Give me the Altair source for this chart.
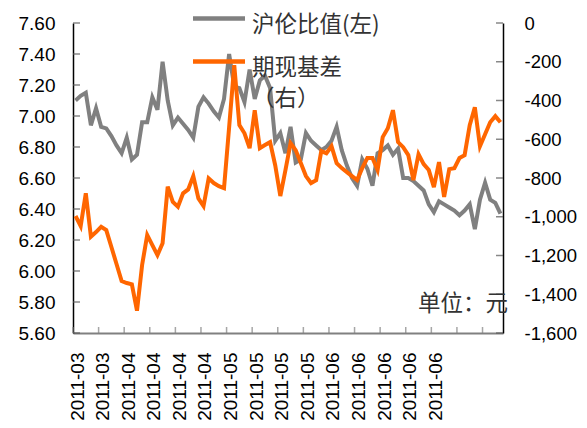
import json
import altair as alt
import pandas as pd

# 沪伦比值 (left axis)
ratio = [7.10, 7.13, 7.15, 6.94, 7.05, 6.93, 6.92, 6.87, 6.81, 6.76,
         6.86, 6.72, 6.75, 6.96, 6.96, 7.12, 7.04, 7.35, 7.10, 6.94,
         6.99, 6.95, 6.91, 6.86, 7.06, 7.12, 7.08, 7.03, 6.99, 7.11,
         7.40, 7.19, 7.18, 7.09, 7.30, 7.11, 7.23, 7.26, 7.18, 6.84,
         6.89, 6.76, 6.93, 6.70, 6.72, 6.89, 6.84, 6.81, 6.78, 6.80,
         6.84, 6.93, 6.78, 6.68, 6.60, 6.55, 6.72, 6.66, 6.55, 6.76,
         6.78, 6.81, 6.75, 6.79, 6.60, 6.60, 6.58, 6.55, 6.52, 6.43,
         6.38, 6.45, 6.43, 6.41, 6.39, 6.36, 6.39, 6.43, 6.27, 6.46,
         6.57, 6.46, 6.44, 6.37]

# 期现基差 (right axis, 元)
basis = [-996, -1048, -879, -1103, -1079, -1052, -1069, -1156, -1244, -1332,
         -1342, -1349, -1485, -1249, -1094, -1146, -1198, -1137, -845, -923,
         -948, -879, -859, -790, -905, -945, -802, -826, -842, -852,
         -538, -218, -527, -569, -646, -450, -646, -630, -615, -734,
         -893, -759, -620, -656, -723, -790, -826, -811, -661, -672,
         -636, -723, -749, -770, -790, -811, -749, -697, -697, -759,
         -589, -543, -450, -615, -641, -682, -811, -677, -728, -759,
         -847, -718, -898, -754, -749, -697, -682, -527, -435, -636,
         -574, -512, -481, -512]

tick_labels = ["2011-03", "2011-03", "2011-04", "2011-04", "2011-04", "2011-04",
               "2011-05", "2011-05", "2011-05", "2011-05", "2011-06", "2011-06",
               "2011-06", "2011-06", "2011-06"]
x_tick_values = [0, 5, 10, 15, 20, 25, 30, 35, 40, 45, 50, 55, 60, 65, 70, 75, 80]
left_ticks = [5.6, 5.8, 6.0, 6.2, 6.4, 6.6, 6.8, 7.0, 7.2, 7.4, 7.6]
right_ticks = [-1600, -1400, -1200, -1000, -800, -600, -400, -200, 0]

legend_names = ["沪伦比值(左)", "期现基差", "（右）"]
unit_text = "单位：元"

df = pd.DataFrame({
    "x": [i + 0.5 for i in range(len(ratio))],
    "ratio": ratio,
    "basis": basis,
})

FONT = "Liberation Sans"
CJK = "Noto Sans CJK SC"

x_scale = alt.Scale(domain=[0, len(ratio)], nice=False, zero=False)
yl_scale = alt.Scale(domain=[5.6, 7.6], nice=False, zero=False)
yr_scale = alt.Scale(domain=[-1600, 0], nice=False)

label_expr = "(" + json.dumps(tick_labels, ensure_ascii=False) + ")[round(datum.value / 5)] || ''"

x_axis = alt.Axis(
    values=x_tick_values[: len(tick_labels)],
    labelExpr=label_expr,
    labelAngle=270,
    labelFont=FONT,
    labelFontSize=19,
    labelColor="#000000",
    labelPadding=19,
    labelOffset=4,
    labelOverlap=False,
    labelFlush=False,
    ticks=False,
    grid=False,
    domainColor="#808080",
    domainWidth=2,
    title=None,
)

left_axis = alt.Axis(
    orient="left",
    values=left_ticks,
    format=".2f",
    labelFont=FONT,
    labelFontSize=19,
    labelColor="#000000",
    labelPadding=18,
    ticks=False,
    grid=False,
    domainColor="#000000",
    domainWidth=1.5,
    title=None,
)

right_axis = alt.Axis(
    orient="right",
    values=right_ticks,
    labelExpr="(datum.value < 0 ? '-' : '') + format(abs(datum.value), ',.0f')",
    labelFont=FONT,
    labelFontSize=18.5,
    labelColor="#000000",
    labelPadding=21,
    labelFlush=False,
    ticks=False,
    grid=False,
    domainColor="#000000",
    domainWidth=1.5,
    title=None,
)

gray_line = alt.Chart(df).mark_line(color="#808080", strokeWidth=4).encode(
    x=alt.X("x:Q", scale=x_scale, axis=x_axis),
    y=alt.Y("ratio:Q", scale=yl_scale, axis=left_axis),
)
left_tick_layer = alt.Chart(pd.DataFrame({"v": left_ticks})).mark_tick(
    orient="horizontal", size=7, thickness=1.5, color="#555555"
).encode(
    y=alt.Y("v:Q", scale=yl_scale, axis=left_axis),
    x=alt.value(3.5),
)
bottom_tick_layer = alt.Chart(pd.DataFrame({"xv": x_tick_values})).mark_tick(
    orient="vertical", size=6, thickness=1.5, color="#808080"
).encode(
    x=alt.X("xv:Q", scale=x_scale, axis=x_axis),
    y=alt.value(307),
)
left_group = alt.layer(left_tick_layer, bottom_tick_layer, gray_line)

orange_line = alt.Chart(df).mark_line(color="#FF6600", strokeWidth=4).encode(
    x=alt.X("x:Q", scale=x_scale, axis=x_axis),
    y=alt.Y("basis:Q", scale=yr_scale, axis=right_axis),
)
right_tick_layer = alt.Chart(pd.DataFrame({"v": right_ticks})).mark_tick(
    orient="horizontal", size=7, thickness=1.5, color="#555555"
).encode(
    y=alt.Y("v:Q", scale=yr_scale, axis=right_axis),
    x=alt.value(426.5),
)
right_group = alt.layer(right_tick_layer, orange_line)

one = pd.DataFrame({"a": [0]})
leg_gray = alt.Chart(one).mark_rule(color="#808080", strokeWidth=4.5).encode(
    x=alt.value(120), x2=alt.value(172), y=alt.value(-4.4)
)
leg_orange = alt.Chart(one).mark_rule(color="#FF6600", strokeWidth=4.5).encode(
    x=alt.value(120), x2=alt.value(172), y=alt.value(38.5)
)
leg_t1 = alt.Chart(one).mark_text(
    text=legend_names[0], font=CJK, fontSize=22.5, color="#333333",
    align="left", baseline="middle"
).encode(x=alt.value(179), y=alt.value(1.5))
leg_t2 = alt.Chart(one).mark_text(
    text=legend_names[1], font=CJK, fontSize=22.5, color="#333333",
    align="left", baseline="middle"
).encode(x=alt.value(179), y=alt.value(44.5))
leg_t3 = alt.Chart(one).mark_text(
    text=legend_names[2], font=CJK, fontSize=22.5, color="#333333",
    align="left", baseline="middle"
).encode(x=alt.value(179), y=alt.value(76))
unit = alt.Chart(one).mark_text(
    text=unit_text, font=CJK, fontSize=22.5, color="#333333",
    align="left", baseline="middle"
).encode(x=alt.value(345), y=alt.value(281))

chart = alt.layer(
    left_group, right_group, leg_gray, leg_orange, leg_t1, leg_t2, leg_t3, unit
).resolve_scale(y="independent").properties(
    width=430,
    height=310,
    autosize=alt.AutoSizeParams(type="none"),
    padding={"left": 65, "top": 15, "right": 76, "bottom": 90},
    background="#ffffff",
).configure_view(stroke=None)

chart.save("out.html", embed_options={"renderer": "svg", "actions": False})
